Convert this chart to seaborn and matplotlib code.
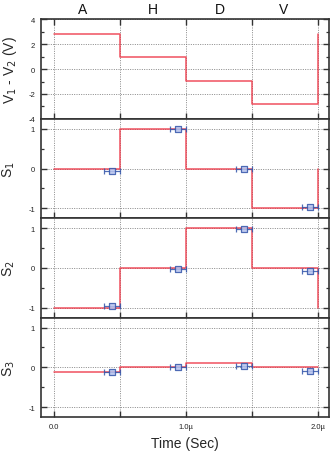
import matplotlib
matplotlib.use("Agg")
import matplotlib.pyplot as plt
import seaborn as sns
import pandas as pd
from matplotlib.ticker import FixedLocator, FixedFormatter

sns.set_theme(style="ticks")
plt.rcParams['font.family'] = ['Liberation Sans', 'DejaVu Sans']
plt.rcParams['axes.unicode_minus'] = False

# ---- data (time in microseconds) ----
t_steps = [0.0, 0.5, 1.0, 1.5, 2.0]
v_diff = [2.8, 0.96, -0.94, -2.83, 2.8]
s1_line = [0.0, 1.0, 0.0, -1.0, 0.0]
s2_line = [-1.0, 0.0, 1.0, 0.0, -1.0]
s3_line = [-0.12, 0.0, 0.1, 0.0, 0.0]

m_time = [0.44, 0.94, 1.44, 1.94]
m_xerr = [0.06, 0.06, 0.06, 0.06]
s1_pts = [-0.06, 1.0, 0.0, -0.96]
s2_pts = [-0.96, -0.02, 0.97, -0.07]
s3_pts = [-0.11, 0.0, 0.04, -0.1]

states = ["A", "H", "D", "V"]
state_pos = [0.22, 0.75, 1.26, 1.74]

x_ticks = [0.0, 0.5, 1.0, 1.5, 2.0]
x_labels = ["0.0", "", "1.0\u00b5", "", "2.0\u00b5"]

RED = "#ee3344"
BLUE = "#3355aa"

W, H = 332, 456
fig = plt.figure(figsize=(W / 100, H / 100), dpi=100)

left = 40.5 / W
width = (329 - 40.5) / W
ph = 99.4 / H
bottom0 = (H - 418) / H

ylabels = ["V$_1$ - V$_2$ (V)", "S$_1$", "S$_2$", "S$_3$"]
lines = [v_diff, s1_line, s2_line, s3_line]
pts = [None, s1_pts, s2_pts, s3_pts]

axes = []
for i in range(4):
    ax = fig.add_axes([left, bottom0 + (3 - i) * ph, width, ph])
    axes.append(ax)
    df = pd.DataFrame({"t": t_steps, "y": lines[i]})
    sns.lineplot(data=df, x="t", y="y", ax=ax, color=RED, lw=1.1, alpha=0.85,
                 drawstyle="steps-post", estimator=None, sort=False, zorder=3)
    if pts[i] is not None:
        ax.errorbar(m_time, pts[i], xerr=m_xerr, fmt="none", ecolor=BLUE,
                    elinewidth=0.9, capsize=2.2, capthick=0.9, alpha=0.85, zorder=4)
        dfm = pd.DataFrame({"t": m_time, "y": pts[i]})
        sns.scatterplot(data=dfm, x="t", y="y", ax=ax, marker="s", s=22,
                        facecolor="#b8c4ee", edgecolor=BLUE, linewidth=0.9,
                        alpha=0.85, zorder=5)
    ax.set_xlim(-0.1, 2.085)
    ax.xaxis.set_major_locator(FixedLocator(x_ticks))
    if i == 3:
        ax.xaxis.set_major_formatter(FixedFormatter(x_labels))
        ax.set_xlabel("Time (Sec)", fontsize=10, labelpad=5)
    else:
        ax.set_xticklabels([])
        ax.set_xlabel("")
    gl = dict(ls=(0, (1.2, 1.6)), color="#777777", lw=0.6)
    if i == 0:
        ax.set_ylim(-4, 4)
        ax.yaxis.set_major_locator(FixedLocator([-4, -2, 0, 2, 4]))
        ax.yaxis.set_minor_locator(FixedLocator([-3, -1, 1, 3]))
    else:
        ax.set_ylim(-1.25, 1.25)
        ax.yaxis.set_major_locator(FixedLocator([-1, 0, 1]))
        ax.yaxis.set_minor_locator(FixedLocator([-0.5, 0.5]))
    ax.yaxis.grid(True, which="major", **gl)
    ax.xaxis.grid(True, which="major", **gl)
    ax.set_axisbelow(True)
    ax.set_ylabel(ylabels[i], fontsize=10)
    ax.yaxis.set_label_coords(-0.08 if i else -0.075, 0.5)
    ax.tick_params(axis="both", which="both", direction="in", labelsize=5.5,
                   colors="#333333", labelcolor="#222222", pad=4)
    ax.tick_params(axis="y", which="major", length=4, width=1.0, right=True, left=True)
    ax.tick_params(axis="y", which="minor", length=2.5, width=0.9, right=True, left=True)
    ax.tick_params(axis="x", which="major", length=4, width=1.0, bottom=True, top=(i == 0))
    for s in ax.spines.values():
        s.set_visible(True)
        s.set_color("#333333")
        s.set_linewidth(1.2)

for lab, xp in zip(states, state_pos):
    axes[0].text(xp, 1.06, lab, transform=axes[0].get_xaxis_transform(),
                 ha="center", va="baseline", fontsize=10, color="#111111")

fig.savefig("out.png", dpi=100)
